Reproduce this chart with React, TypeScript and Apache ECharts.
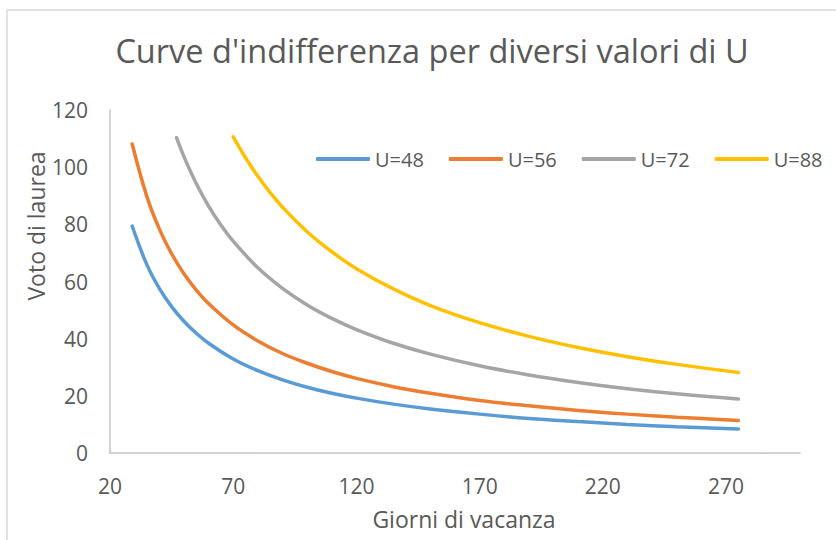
import React, { useEffect, useRef } from "react";
import * as echarts from "echarts";

const TITLE = "Curve d'indifferenza per diversi valori di U";
const X_NAME = "Giorni di vacanza";
const Y_NAME = "Voto di laurea";
const SERIES_NAMES = ["U=48", "U=56", "U=72", "U=88"];
const COLORS = ["#5B9BD5", "#ED7D31", "#A5A5A5", "#FFC000"];
const X_TICKS = [20, 70, 120, 170, 220, 270];

// Days of vacation (x) and grade (y)
const X_48 = [29, 35, 40, 45, 50, 55, 60, 70, 80, 90, 100, 110, 120, 135, 150, 170, 190, 210, 230, 250, 275];
const Y_48 = [79.4, 65.8, 57.6, 51.2, 46.1, 41.9, 38.4, 32.9, 28.8, 25.6, 23.0, 20.9, 19.2, 17.1, 15.4, 13.6, 12.1, 11.0, 10.0, 9.2, 8.4];

const X_56 = [29, 35, 40, 45, 50, 55, 60, 70, 80, 90, 100, 110, 120, 135, 150, 170, 190, 210, 230, 250, 275];
const Y_56 = [108.1, 89.6, 78.4, 69.7, 62.7, 57.0, 52.3, 44.8, 39.2, 34.8, 31.4, 28.5, 26.1, 23.2, 20.9, 18.4, 16.5, 14.9, 13.6, 12.5, 11.4];

const X_72 = [47, 50, 55, 60, 65, 70, 80, 90, 100, 110, 120, 135, 150, 170, 190, 210, 230, 250, 275];
const Y_72 = [110.3, 103.7, 94.3, 86.4, 79.8, 74.1, 64.8, 57.6, 51.8, 47.1, 43.2, 38.4, 34.6, 30.5, 27.3, 24.7, 22.5, 20.7, 18.9];

const X_88 = [70, 75, 80, 85, 90, 100, 110, 120, 135, 150, 170, 190, 210, 230, 250, 275];
const Y_88 = [110.6, 103.3, 96.8, 91.1, 86.0, 77.4, 70.4, 64.5, 57.4, 51.6, 45.6, 40.8, 36.9, 33.7, 31.0, 28.2];

const XS = [X_48, X_56, X_72, X_88];
const YS = [Y_48, Y_56, Y_72, Y_88];

const FONT = "'Open Sans', sans-serif";
const TEXT_COLOR = "#595959";

export default function App() {
  const ref = useRef<HTMLDivElement>(null);

  useEffect(() => {
    if (!ref.current) return;
    const chart = echarts.init(ref.current, undefined, { renderer: "svg" });
    const series = SERIES_NAMES.map((name, i) => ({
      name,
      type: "line",
      data: XS[i].map((x, j) => [x, YS[i][j]]),
      smooth: 0.4,
      showSymbol: false,
      symbol: "none",
      lineStyle: { color: COLORS[i], width: 3.5, cap: "round" },
      itemStyle: { color: COLORS[i] },
    }));

    chart.setOption({
      animation: false,
      backgroundColor: "#ffffff",
      textStyle: { fontFamily: FONT },
      title: {
        text: TITLE,
        left: 427,
        top: 29,
        textAlign: "center",
        textStyle: { fontFamily: FONT, fontSize: 32.5, fontWeight: "normal", color: TEXT_COLOR },
      },
      legend: {
        data: SERIES_NAMES,
        left: 316,
        top: 149,
        width: 600,
        padding: 0,
        icon: "roundRect",
        itemWidth: 54,
        itemHeight: 4,
        itemGap: 25,
        textStyle: { fontFamily: FONT, fontSize: 20, color: TEXT_COLOR },
      },
      grid: { left: 110, right: 36, top: 110, bottom: 87, containLabel: false },
      xAxis: {
        type: "value",
        min: 20,
        max: 300,
        axisLine: { show: true, lineStyle: { color: "#c4c4c4", width: 1.5 } },
        axisTick: { show: false },
        splitLine: { show: false },
        axisLabel: {
          customValues: X_TICKS,
          margin: 22,
          fontFamily: FONT,
          fontSize: 21,
          color: TEXT_COLOR,
        },
      },
      yAxis: {
        type: "value",
        min: 0,
        max: 120,
        interval: 20,
        axisLine: { show: true, lineStyle: { color: "#c4c4c4", width: 1.5 } },
        axisTick: { show: false },
        splitLine: { show: false },
        axisLabel: { margin: 22, fontFamily: FONT, fontSize: 21, color: TEXT_COLOR },
      },
      graphic: [
        {
          type: "rect",
          shape: { x: 7, y: 10, width: 900, height: 700 },
          style: { fill: "none", stroke: "#d9d9d9", lineWidth: 1.5 },
          silent: true,
          z: -1,
        },
        {
          type: "text",
          x: 36,
          y: 226,
          rotation: Math.PI / 2,
          style: {
            text: Y_NAME,
            fontFamily: FONT,
            fontSize: 23,
            fill: TEXT_COLOR,
            align: "center",
            verticalAlign: "middle",
          },
        },
        {
          type: "text",
          x: 464,
          y: 519,
          style: {
            text: X_NAME,
            fontFamily: FONT,
            fontSize: 23,
            fill: TEXT_COLOR,
            align: "center",
            verticalAlign: "middle",
          },
        },
      ],
      series,
    });
    return () => chart.dispose();
  }, []);

  return (
    <div
      ref={ref}
      style={{ position: "fixed", left: 0, top: 0, width: 836, height: 540, background: "#fff" }}
    />
  );
}
